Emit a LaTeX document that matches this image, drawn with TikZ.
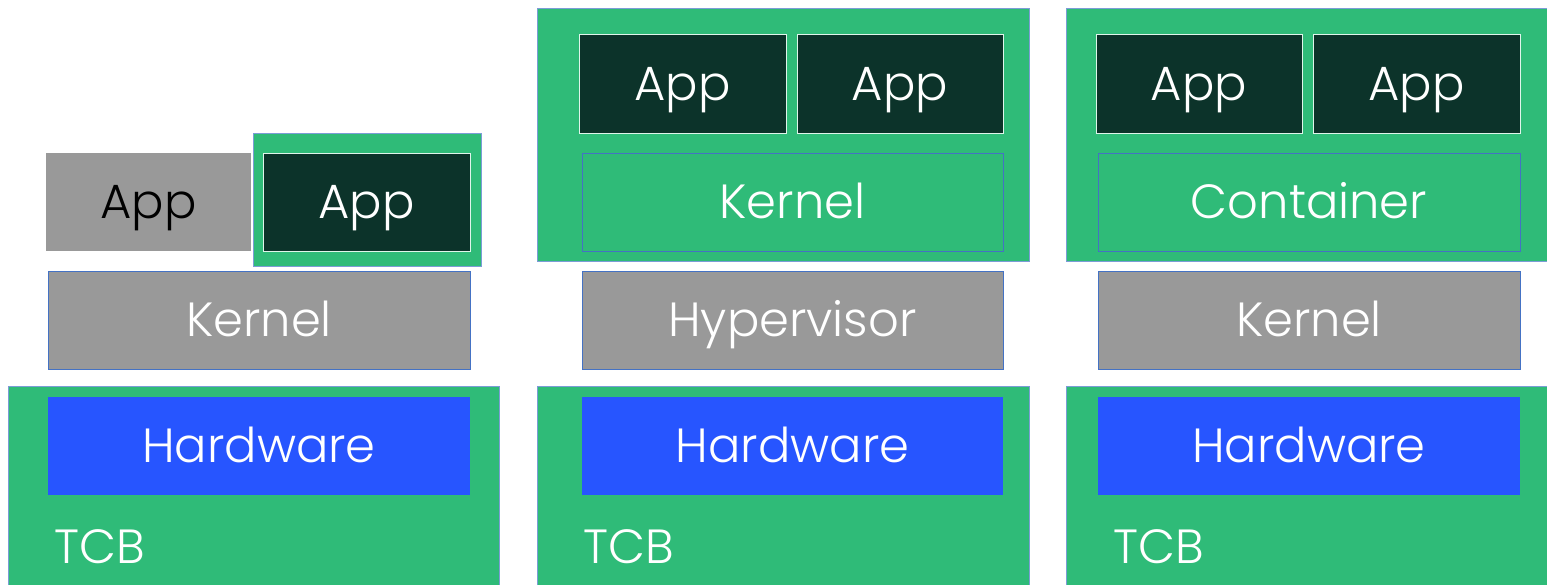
\documentclass[tikz,border=0pt]{standalone}
\usepackage{fontspec}
\setmainfont{Poppins}[UprightFont=* Light]
\definecolor{tcbgreen}{HTML}{2FBB78}
\definecolor{appdark}{HTML}{0C332A}
\definecolor{layergrey}{HTML}{999999}
\definecolor{hwblue}{HTML}{2755FF}
\definecolor{edgeblue}{HTML}{4472C4}
\tikzset{
  base/.style={rectangle, inner sep=0pt, outer sep=0pt, anchor=north west,
    line width=1pt, text height=33.5pt, text depth=0pt,
    font=\fontsize{48}{58}\selectfont},
  tcbbox/.style={base, fill=tcbgreen, draw=edgeblue!70},
  appbox/.style={base, fill=appdark, draw=white!85!tcbgreen, text=white},
  greybox/.style={base, fill=layergrey, draw=edgeblue, text=white},
  plainapp/.style={base, fill=layergrey, text=black},
  innergreen/.style={base, fill=tcbgreen, draw=edgeblue, text=white},
  hwbox/.style={base, fill=hwblue, text=white},
  tcblabel/.style={anchor=base west, inner sep=0pt, text=white,
    font=\fontsize{48}{58}\selectfont},
}
\begin{document}
\begin{tikzpicture}[x=1pt, y=-1pt]
  \useasboundingbox (0,0) rectangle (1547,584);
  \clip (0,0) rectangle (1547,584);

  % ---- left stack: process isolation ----
  \node[tcbbox, minimum width=491pt, minimum height=210pt] (tcbA) at (8,386) {};
  \node[hwbox, minimum width=422pt, minimum height=98pt] (hwA) at (48,397) {Hardware};
  \node[tcblabel] (tcbtA) at (54,563) {TCB};
  \node[greybox, minimum width=422pt, minimum height=98pt] (kerA) at (48,271) {Kernel};
  \node[plainapp, minimum width=205pt, minimum height=98pt] (appA1) at (46,153) {App};
  \node[tcbbox, minimum width=228pt, minimum height=133pt] (encA) at (253,133) {};
  \node[appbox, minimum width=207pt, minimum height=98pt] (appA2) at (263,153) {App};

  % ---- middle stack: virtual machines ----
  \node[tcbbox, minimum width=492pt, minimum height=210pt] (tcbB) at (537,386) {};
  \node[hwbox, minimum width=421pt, minimum height=98pt] (hwB) at (582,397) {Hardware};
  \node[tcblabel] (tcbtB) at (583,563) {TCB};
  \node[greybox, minimum width=421pt, minimum height=98pt] (hypB) at (582,271) {Hypervisor};
  \node[tcbbox, minimum width=492pt, minimum height=253pt] (vmB) at (537,8) {};
  \node[appbox, minimum width=207pt, minimum height=99pt] (appB1) at (579,34) {App};
  \node[appbox, minimum width=206pt, minimum height=99pt] (appB2) at (797,34) {App};
  \node[innergreen, minimum width=421pt, minimum height=98pt] (kerB) at (582,153) {Kernel};

  % ---- right stack: containers ----
  \node[tcbbox, minimum width=500pt, minimum height=210pt] (tcbC) at (1066,386) {};
  \node[hwbox, minimum width=422pt, minimum height=98pt] (hwC) at (1098,397) {Hardware};
  \node[tcblabel] (tcbtC) at (1113,563) {TCB};
  \node[greybox, minimum width=422pt, minimum height=98pt] (kerC) at (1098,271) {Kernel};
  \node[tcbbox, minimum width=500pt, minimum height=253pt] (ctC) at (1066,8) {};
  \node[appbox, minimum width=206pt, minimum height=99pt] (appC1) at (1096,34) {App};
  \node[appbox, minimum width=207pt, minimum height=99pt] (appC2) at (1313,34) {App};
  \node[innergreen, minimum width=422pt, minimum height=98pt] (conC) at (1098,153) {Container};
\end{tikzpicture}
\end{document}
